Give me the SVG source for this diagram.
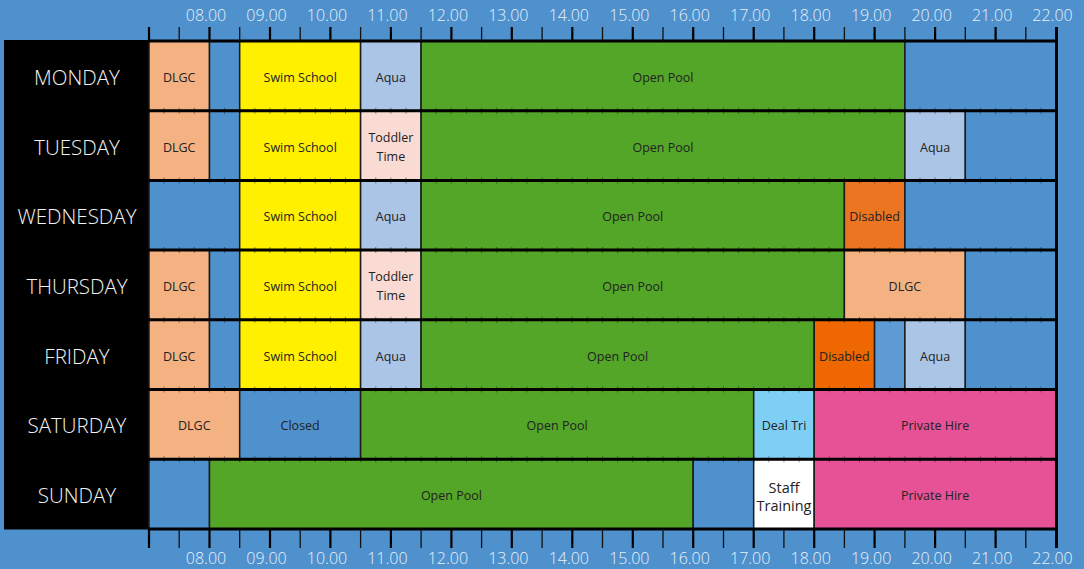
<svg xmlns="http://www.w3.org/2000/svg" width="1084" height="569" viewBox="0 0 1084 569">
<style>
.c{stroke:#1b1b1b;stroke-width:1.5}
.bl{fill:#4f91cd}
.bl2{fill:#5e9bd4}
.dl{fill:#f4b282}
.sw{fill:#fff000}
.aq{fill:#abc5e6}
.op{fill:#53a628}
.td{fill:#f9dbd3}
.ds{fill:#ec7522}
.ds2{fill:#ee6700}
.dt{fill:#7ecff5}
.ph{fill:#e75296}
.st{fill:#ffffff}
.t{font-family:"Open Sans","Noto Sans","Liberation Sans",sans-serif;font-size:12.5px;fill:#222;text-anchor:middle;transform:translateY(1.5px)}
.t2{font-family:"Open Sans","Noto Sans","Liberation Sans",sans-serif;font-size:14.5px;fill:#222;text-anchor:middle;transform:translateY(1px)}
.day{font-family:"Open Sans","Noto Sans","Liberation Sans",sans-serif;font-size:20.5px;font-weight:300;fill:#f2f2f2;text-anchor:middle;transform:translateY(2px)}
.hr{font-family:"Open Sans","Noto Sans","Liberation Sans",sans-serif;font-size:16px;font-weight:300;fill:#e8f0f9;text-anchor:middle}
</style>
<rect x="0" y="0" width="1084" height="569" fill="#4f91cd"/>

<g id="day-labels">
<rect x="4" y="40" width="145.5" height="489.5" fill="#000"/>
<text class="day" x="77" y="83">MONDAY</text>
<text class="day" x="77" y="152.6">TUESDAY</text>
<text class="day" x="77" y="222.3">WEDNESDAY</text>
<text class="day" x="77" y="292">THURSDAY</text>
<text class="day" x="77" y="361.7">FRIDAY</text>
<text class="day" x="77" y="431.4">SATURDAY</text>
<text class="day" x="77" y="501.1">SUNDAY</text>
</g>

<g id="monday">
<rect class="c dl" x="149" y="41" width="60.5" height="69.7"/>
<rect class="c bl" x="209.5" y="41" width="30.2" height="69.7"/>
<rect class="c sw" x="239.7" y="41" width="120.9" height="69.7"/>
<rect class="c aq" x="360.6" y="41" width="60.5" height="69.7"/>
<rect class="c op" x="421.1" y="41" width="483.8" height="69.7"/>
<rect class="c bl" x="904.9" y="41" width="151.1" height="69.7"/>
<text class="t" x="179.2" y="80.3">DLGC</text>
<text class="t" x="300.2" y="80.3">Swim School</text>
<text class="t" x="390.9" y="80.3">Aqua</text>
<text class="t" x="663" y="80.3">Open Pool</text>
</g>

<g id="tuesday">
<rect class="c dl" x="149" y="110.7" width="60.5" height="69.7"/>
<rect class="c bl" x="209.5" y="110.7" width="30.2" height="69.7"/>
<rect class="c sw" x="239.7" y="110.7" width="120.9" height="69.7"/>
<rect class="c td" x="360.6" y="110.7" width="60.5" height="69.7"/>
<rect class="c op" x="421.1" y="110.7" width="483.8" height="69.7"/>
<rect class="c aq" x="904.9" y="110.7" width="60.4" height="69.7"/>
<rect class="c bl" x="965.3" y="110.7" width="90.7" height="69.7"/>
<text class="t" x="179.2" y="150">DLGC</text>
<text class="t" x="300.2" y="150">Swim School</text>
<text class="t" x="390.9" y="140.5">Toddler</text>
<text class="t" x="390.9" y="159.5">Time</text>
<text class="t" x="663" y="150">Open Pool</text>
<text class="t" x="935.1" y="150">Aqua</text>
</g>

<g id="wednesday">
<rect class="c bl" x="149" y="180.4" width="90.7" height="69.7"/>
<rect class="c sw" x="239.7" y="180.4" width="120.9" height="69.7"/>
<rect class="c aq" x="360.6" y="180.4" width="60.5" height="69.7"/>
<rect class="c op" x="421.1" y="180.4" width="423.3" height="69.7"/>
<rect class="c ds" x="844.4" y="180.4" width="60.5" height="69.7"/>
<rect class="c bl" x="904.9" y="180.4" width="151.1" height="69.7"/>
<text class="t" x="300.2" y="219.7">Swim School</text>
<text class="t" x="390.9" y="219.7">Aqua</text>
<text class="t" x="632.7" y="219.7">Open Pool</text>
<text class="t" x="874.6" y="219.7">Disabled</text>
</g>

<g id="thursday">
<rect class="c dl" x="149" y="250.1" width="60.5" height="69.7"/>
<rect class="c bl" x="209.5" y="250.1" width="30.2" height="69.7"/>
<rect class="c sw" x="239.7" y="250.1" width="120.9" height="69.7"/>
<rect class="c td" x="360.6" y="250.1" width="60.5" height="69.7"/>
<rect class="c op" x="421.1" y="250.1" width="423.3" height="69.7"/>
<rect class="c dl" x="844.4" y="250.1" width="120.9" height="69.7"/>
<rect class="c bl" x="965.3" y="250.1" width="90.7" height="69.7"/>
<text class="t" x="179.2" y="289.4">DLGC</text>
<text class="t" x="300.2" y="289.4">Swim School</text>
<text class="t" x="390.9" y="279.9">Toddler</text>
<text class="t" x="390.9" y="298.9">Time</text>
<text class="t" x="632.7" y="289.4">Open Pool</text>
<text class="t" x="904.9" y="289.4">DLGC</text>
</g>

<g id="friday">
<rect class="c dl" x="149" y="319.8" width="60.5" height="69.7"/>
<rect class="c bl" x="209.5" y="319.8" width="30.2" height="69.7"/>
<rect class="c sw" x="239.7" y="319.8" width="120.9" height="69.7"/>
<rect class="c aq" x="360.6" y="319.8" width="60.5" height="69.7"/>
<rect class="c op" x="421.1" y="319.8" width="393.1" height="69.7"/>
<rect class="c ds2" x="814.2" y="319.8" width="60.4" height="69.7"/>
<rect class="c bl2" x="874.6" y="319.8" width="30.3" height="69.7"/>
<rect class="c aq" x="904.9" y="319.8" width="60.4" height="69.7"/>
<rect class="c bl" x="965.3" y="319.8" width="90.7" height="69.7"/>
<text class="t" x="179.2" y="359.1">DLGC</text>
<text class="t" x="300.2" y="359.1">Swim School</text>
<text class="t" x="390.9" y="359.1">Aqua</text>
<text class="t" x="617.6" y="359.1">Open Pool</text>
<text class="t" x="844.4" y="359.1">Disabled</text>
<text class="t" x="935.1" y="359.1">Aqua</text>
</g>

<g id="saturday">
<rect class="c dl" x="149" y="389.5" width="90.7" height="69.7"/>
<rect class="c bl" x="239.7" y="389.5" width="120.9" height="69.7"/>
<rect class="c op" x="360.6" y="389.5" width="393.1" height="69.7"/>
<rect class="c dt" x="753.7" y="389.5" width="60.5" height="69.7"/>
<rect class="c ph" x="814.2" y="389.5" width="241.8" height="69.7"/>
<text class="t" x="194.3" y="428.8">DLGC</text>
<text class="t" x="300.2" y="428.8">Closed</text>
<text class="t" x="557.1" y="428.8">Open Pool</text>
<text class="t" x="784" y="428.8">Deal Tri</text>
<text class="t" x="935.1" y="428.8">Private Hire</text>
</g>

<g id="sunday">
<rect class="c bl" x="149" y="459.2" width="60.5" height="69.8"/>
<rect class="c op" x="209.5" y="459.2" width="483.7" height="69.8"/>
<rect class="c bl" x="693.2" y="459.2" width="60.5" height="69.8"/>
<rect class="c st" x="753.7" y="459.2" width="60.5" height="69.8"/>
<rect class="c ph" x="814.2" y="459.2" width="241.8" height="69.8"/>
<text class="t" x="451.4" y="498.5">Open Pool</text>
<text class="t2" x="784" y="491.5">Staff</text>
<text class="t2" x="784" y="510">Training</text>
<text class="t" x="935.1" y="498.5">Private Hire</text>
</g>

<g id="grid-lines">
<g stroke="#111" stroke-width="6" stroke-dasharray="1 14.1175" opacity="0.45">
<line x1="148.5" y1="110.7" x2="1057" y2="110.7"/>
<line x1="148.5" y1="180.4" x2="1057" y2="180.4"/>
<line x1="148.5" y1="250.1" x2="1057" y2="250.1"/>
<line x1="148.5" y1="319.8" x2="1057" y2="319.8"/>
<line x1="148.5" y1="389.5" x2="1057" y2="389.5"/>
<line x1="148.5" y1="459.2" x2="1057" y2="459.2"/>
</g>
<g stroke="#000" stroke-width="3">
<line x1="148" y1="41" x2="1057.5" y2="41"/>
<line x1="148" y1="110.7" x2="1057.5" y2="110.7"/>
<line x1="148" y1="180.4" x2="1057.5" y2="180.4"/>
<line x1="148" y1="250.1" x2="1057.5" y2="250.1"/>
<line x1="148" y1="319.8" x2="1057.5" y2="319.8"/>
<line x1="148" y1="389.5" x2="1057.5" y2="389.5"/>
<line x1="148" y1="459.2" x2="1057.5" y2="459.2"/>
<line x1="148" y1="529" x2="1057.5" y2="529"/>
<line x1="1056.5" y1="27" x2="1056.5" y2="548"/>
</g>
<path stroke="#000" stroke-width="2.2" fill="none" d="M149,27V41M209.5,27V41M270,27V41M330.4,27V41M390.9,27V41M451.4,27V41M511.8,27V41M572.3,27V41M632.8,27V41M693.2,27V41M753.7,27V41M814.2,27V41M874.6,27V41M935.1,27V41M995.6,27V41
M149,529V548M209.5,529V548M270,529V548M330.4,529V548M390.9,529V548M451.4,529V548M511.8,529V548M572.3,529V548M632.8,529V548M693.2,529V548M753.7,529V548M814.2,529V548M874.6,529V548M935.1,529V548M995.6,529V548"/>
<path stroke="#111" stroke-width="1.3" fill="none" d="M179.2,27V41M239.7,27V41M300.2,27V41M360.6,27V41M421.1,27V41M481.6,27V41M542.1,27V41M602.5,27V41M663,27V41M723.5,27V41M783.9,27V41M844.4,27V41M904.9,27V41M965.3,27V41M1025.8,27V41
M179.2,529V548M239.7,529V548M300.2,529V548M360.6,529V548M421.1,529V548M481.6,529V548M542.1,529V548M602.5,529V548M663,529V548M723.5,529V548M783.9,529V548M844.4,529V548M904.9,529V548M965.3,529V548M1025.8,529V548"/>
</g>

<g id="axis-top">
<text class="hr" x="206" y="21">08.00</text>
<text class="hr" x="266.5" y="21">09.00</text>
<text class="hr" x="327" y="21">10.00</text>
<text class="hr" x="387.4" y="21">11.00</text>
<text class="hr" x="447.9" y="21">12.00</text>
<text class="hr" x="508.3" y="21">13.00</text>
<text class="hr" x="568.8" y="21">14.00</text>
<text class="hr" x="629.3" y="21">15.00</text>
<text class="hr" x="689.7" y="21">16.00</text>
<text class="hr" x="750.2" y="21">17.00</text>
<text class="hr" x="810.7" y="21">18.00</text>
<text class="hr" x="871.1" y="21">19.00</text>
<text class="hr" x="931.6" y="21">20.00</text>
<text class="hr" x="992.1" y="21">21.00</text>
<text class="hr" x="1052.5" y="21">22.00</text>
</g>
<g id="axis-bottom">
<text class="hr" x="206" y="564">08.00</text>
<text class="hr" x="266.5" y="564">09.00</text>
<text class="hr" x="327" y="564">10.00</text>
<text class="hr" x="387.4" y="564">11.00</text>
<text class="hr" x="447.9" y="564">12.00</text>
<text class="hr" x="508.3" y="564">13.00</text>
<text class="hr" x="568.8" y="564">14.00</text>
<text class="hr" x="629.3" y="564">15.00</text>
<text class="hr" x="689.7" y="564">16.00</text>
<text class="hr" x="750.2" y="564">17.00</text>
<text class="hr" x="810.7" y="564">18.00</text>
<text class="hr" x="871.1" y="564">19.00</text>
<text class="hr" x="931.6" y="564">20.00</text>
<text class="hr" x="992.1" y="564">21.00</text>
<text class="hr" x="1052.5" y="564">22.00</text>
</g>
</svg>
